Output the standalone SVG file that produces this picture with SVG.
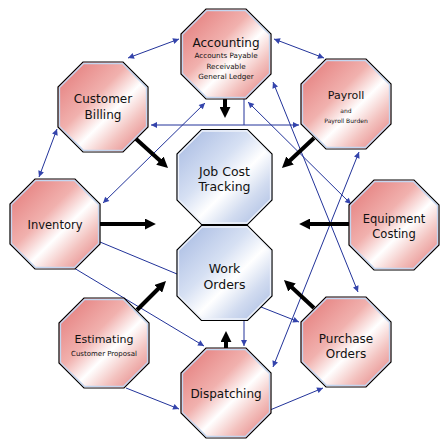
<svg xmlns="http://www.w3.org/2000/svg" width="446" height="446" viewBox="0 0 446 446">
<defs>
<linearGradient id="gRed" x1="0" y1="0" x2="1" y2="1">
<stop offset="0" stop-color="#e27474"/>
<stop offset="0.4" stop-color="#f1b1ae"/>
<stop offset="0.58" stop-color="#ffffff"/>
<stop offset="0.75" stop-color="#f3c2bf"/>
<stop offset="1" stop-color="#e27575"/>
</linearGradient>
<linearGradient id="gBlue" x1="0" y1="0" x2="1" y2="1">
<stop offset="0" stop-color="#a2b6e0"/>
<stop offset="0.4" stop-color="#d6e0f3"/>
<stop offset="0.58" stop-color="#ffffff"/>
<stop offset="0.75" stop-color="#d2dcf0"/>
<stop offset="1" stop-color="#a3b7e0"/>
</linearGradient>
<marker id="bh" viewBox="0 0 10 10" refX="1" refY="5" markerUnits="userSpaceOnUse" markerWidth="11" markerHeight="11" orient="auto">
<path d="M0,0 L10,5 L0,10 Z" fill="#000"/>
</marker>
<marker id="ah" viewBox="0 0 10 10" refX="10" refY="5" markerUnits="userSpaceOnUse" markerWidth="7" markerHeight="6" orient="auto-start-reverse">
<path d="M0,0 L10,5 L0,10 Z" fill="#3444ac"/>
</marker>
<path id="octO" d="M-20,-45 L20,-45 L45,-20 L45,20 L20,45 L-20,45 L-45,20 L-45,-20 Z"/>
<path id="octOi" d="M-19.4,-43.5 L19.4,-43.5 L43.5,-19.4 L43.5,19.4 L19.4,43.5 L-19.4,43.5 L-43.5,19.4 L-43.5,-19.4 Z"/>
<path id="octC" d="M-23,-47.5 L23,-47.5 L47.5,-23 L47.5,23 L23,47.5 L-23,47.5 L-47.5,23 L-47.5,-23 Z"/>
<path id="octCi" d="M-22.4,-46 L22.4,-46 L46,-22.4 L46,22.4 L22.4,46 L-22.4,46 L-46,22.4 L-46,-22.4 Z"/>
</defs>
<style>
.red { fill: url(#gRed); stroke: #000; stroke-width: 1.2; }
.blue { fill: url(#gBlue); stroke: #000; stroke-width: 1.2; }
.inr { fill: none; stroke: #c4d6f0; stroke-width: 1.3; }
.inb { fill: none; stroke: #eef2fa; stroke-width: 1.3; }
text { font-family: "DejaVu Sans", "Liberation Sans", sans-serif; fill: #111; text-anchor: middle; }
.t { font-size: 12px; }
.s { font-size: 7.2px; }
.bl { fill: none; stroke: #22339a; stroke-width: 1; }
.bk { fill: none; stroke: #000; stroke-width: 4; }
</style>
<rect width="446" height="446" fill="#fff"/>

<g id="connectors">
<line class="bl" x1="128" y1="58" x2="179" y2="39" marker-start="url(#ah)" marker-end="url(#ah)"/>
<line class="bl" x1="274" y1="39" x2="324" y2="58" marker-start="url(#ah)" marker-end="url(#ah)"/>
<line class="bl" x1="57" y1="129" x2="39" y2="177" marker-start="url(#ah)" marker-end="url(#ah)"/>
<line class="bl" x1="244" y1="99" x2="244" y2="125"/>
<line class="bl" x1="151" y1="125" x2="299" y2="125" marker-start="url(#ah)" marker-end="url(#ah)"/>
<line class="bl" x1="103" y1="203" x2="205" y2="103" marker-start="url(#ah)" marker-end="url(#ah)"/>
<line class="bl" x1="248" y1="102" x2="351" y2="204" marker-start="url(#ah)" marker-end="url(#ah)"/>
<line class="bl" x1="273" y1="82" x2="358" y2="292" marker-start="url(#ah)" marker-end="url(#ah)"/>
<line class="bl" x1="359" y1="152" x2="273" y2="367" marker-start="url(#ah)" marker-end="url(#ah)"/>
<line class="bl" x1="100" y1="242" x2="177" y2="274"/>
<line class="bl" x1="74" y1="268" x2="204" y2="346" marker-end="url(#ah)"/>
<line class="bl" x1="126" y1="388" x2="179" y2="409" marker-end="url(#ah)"/>
<line class="bl" x1="244" y1="320" x2="244" y2="346" marker-end="url(#ah)"/>
<line class="bl" x1="261" y1="307" x2="299" y2="322" marker-end="url(#ah)"/>
<line class="bl" x1="270" y1="410" x2="323" y2="388" marker-end="url(#ah)"/>

<line class="bk" x1="225" y1="99" x2="225" y2="108" marker-end="url(#bh)"/>
<line class="bk" x1="226" y1="349" x2="226" y2="341" marker-end="url(#bh)"/>
<line class="bk" x1="100" y1="224" x2="146" y2="224" marker-end="url(#bh)"/>
<line class="bk" x1="349" y1="224" x2="309" y2="224" marker-end="url(#bh)"/>
<line class="bk" x1="135" y1="138" x2="160.7" y2="161.3" marker-end="url(#bh)"/>
<line class="bk" x1="314" y1="138" x2="289.2" y2="161.2" marker-end="url(#bh)"/>
<line class="bk" x1="137" y1="310" x2="159" y2="288" marker-end="url(#bh)"/>
<line class="bk" x1="314" y1="308" x2="291.2" y2="286.8" marker-end="url(#bh)"/>
</g>

<g id="accounting" transform="translate(226,54)">
<use href="#octO" class="red"/><use href="#octOi" class="inr"/>
<text class="t" y="-7">Accounting</text>
<text class="s" y="4">Accounts Payable</text>
<text class="s" y="14.5">Receivable</text>
<text class="s" y="25">General Ledger</text>
</g>
<g id="payroll" transform="translate(346,104)">
<use href="#octO" class="red"/><use href="#octOi" class="inr"/>
<text y="-5" style="font-size:11px">Payroll</text>
<text y="9.3" style="font-size:6px">and</text>
<text y="18.7" style="font-size:6px">Payroll Burden</text>
</g>
<g id="customer-billing" transform="translate(103,107)">
<use href="#octO" class="red"/><use href="#octOi" class="inr"/>
<text class="t" y="-4">Customer</text>
<text class="t" y="12">Billing</text>
</g>
<g id="job-cost-tracking" transform="translate(224.5,177)">
<use href="#octC" class="blue"/><use href="#octCi" class="inb"/>
<text y="-1" style="font-size:12.5px">Job Cost</text>
<text y="14" style="font-size:12.5px">Tracking</text>
</g>
<g id="work-orders" transform="translate(224.5,273)">
<use href="#octC" class="blue"/><use href="#octCi" class="inb"/>
<text y="0" style="font-size:12.5px">Work</text>
<text y="16" style="font-size:12.5px">Orders</text>
</g>
<g id="inventory" transform="translate(55,224)">
<use href="#octO" class="red"/><use href="#octOi" class="inr"/>
<text y="4.5" style="font-size:11.5px">Inventory</text>
</g>
<g id="equipment-costing" transform="translate(394,225)">
<use href="#octO" class="red"/><use href="#octOi" class="inr"/>
<text y="-1.7" style="font-size:11.5px">Equipment</text>
<text y="13.3" style="font-size:11.5px">Costing</text>
</g>
<g id="estimating" transform="translate(104,343)">
<use href="#octO" class="red"/><use href="#octOi" class="inr"/>
<text y="0" style="font-size:11px">Estimating</text>
<text y="12.7" style="font-size:7px">Customer Proposal</text>
</g>
<g id="purchase-orders" transform="translate(346,342)">
<use href="#octO" class="red"/><use href="#octOi" class="inr"/>
<text class="t" y="0.7">Purchase</text>
<text class="t" y="15.7">Orders</text>
</g>
<g id="dispatching" transform="translate(226,393)">
<use href="#octO" class="red"/><use href="#octOi" class="inr"/>
<text class="t" y="5.3">Dispatching</text>
</g>
</svg>
